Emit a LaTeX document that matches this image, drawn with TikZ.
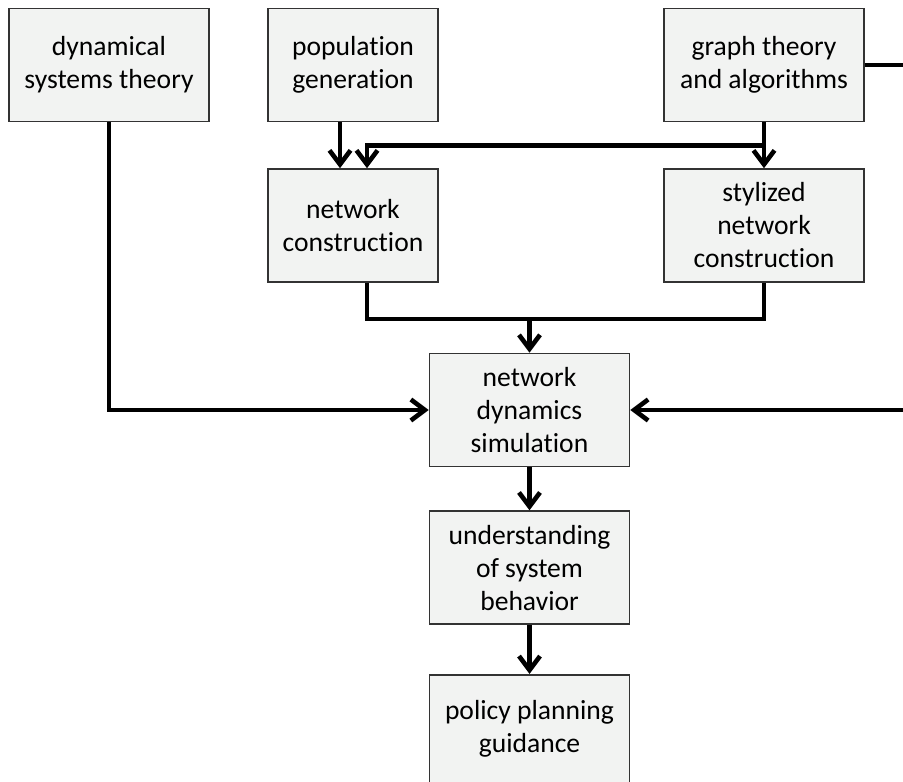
\documentclass[tikz,border=0pt]{standalone}
\usepackage{fontspec}
\setmainfont{Carlito}[Ligatures=NoCommon]
\usetikzlibrary{arrows.meta,positioning}
\definecolor{BoxFill}{HTML}{F2F3F2}
\definecolor{BoxLine}{HTML}{333333}

\begin{document}
\begin{tikzpicture}[
  x=0.5pt,y=-0.5pt,
  box/.style={draw=BoxLine,fill=BoxFill,line width=0.8pt,align=center,inner sep=0pt,minimum height=56.5pt,font=\fontsize{13.8}{16.5}\selectfont},
  wide/.style={box,minimum width=100pt},
  narrow/.style={box,minimum width=85pt},
  arrow/.style={-{Straight Barb[length=7pt,width=10.5pt]},line width=2.3pt},
  link/.style={line width=2.3pt}
]
  \path[use as bounding box,clip] (0,0) rectangle (903,781);

  \node[wide] (dyn) at (109,65) {dynamical\\systems theory};
  \node[narrow] (pop) at (353,65) {population\\generation};
  \node[wide] (graph) at (764,65) {graph theory\\and algorithms};
  \node[narrow] (netcon) at (353,225.5) {network\\construction};
  \node[wide] (stylized) at (764,225.5) {stylized\\network\\construction};
  \node[wide] (sim) at (529.5,410) {network\\dynamics\\simulation};
  \node[wide,below=21.5pt of sim] (under) {understanding\\of system\\behavior};
  \node[wide,minimum height=54pt,below=24.5pt of under] (policy) {policy planning\\guidance};

  \path (graph.south) ++(0,23) coordinate (split);
  \path ([xshift=7pt]netcon.south) ++(0,36) coordinate (merge);
  \coordinate (offpage) at (915,0);

  \draw[arrow] ([xshift=-6.5pt]pop.south) -- ([xshift=-6.5pt]netcon.north);
  \draw[arrow] (graph.south) -- (stylized.north);
  \draw[arrow] (split) -| ([xshift=7pt]netcon.north);
  \draw[link] ([xshift=7pt]netcon.south) -- (merge) -| (stylized.south);
  \draw[arrow] (merge -| sim.north) -- (sim.north);
  \draw[arrow] (dyn.south) |- (sim.west);
  \draw[arrow] (graph.east) -- (graph.east -| offpage) -- (sim.east -| offpage) -- (sim.east);
  \draw[arrow] (sim) -- (under);
  \draw[arrow] (under) -- (policy);
\end{tikzpicture}
\end{document}
